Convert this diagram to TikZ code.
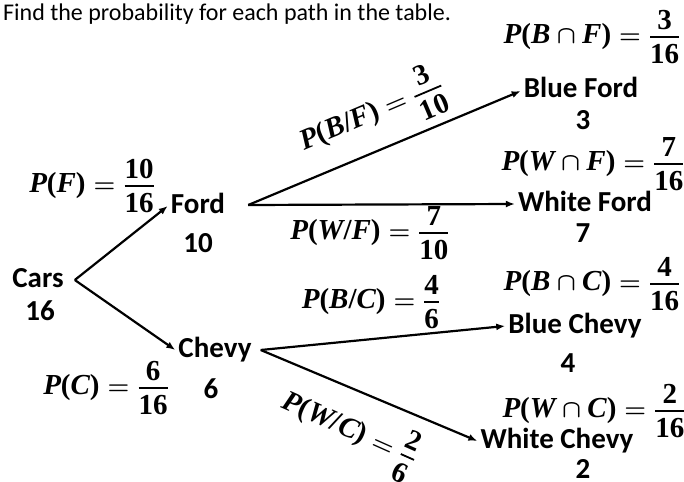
\documentclass[tikz,border=0pt]{standalone}
\usepackage{amsmath}
\usepackage{fontspec}
\setmainfont{Carlito}
\newfontfamily\probfont{Liberation Serif}
\usetikzlibrary{arrows.meta}

% letters and digits of the probabilities
\newcommand{\probsize}{\fontsize{29}{33}\selectfont}
\newcommand{\pv}[1]{\text{\probsize\probfont\bfseries\itshape #1}}
\newcommand{\pn}[1]{\text{\probsize\probfont\bfseries #1}}
\newcommand{\pfrac}[2]{\genfrac{}{}{1.8pt}{1}{\pn{#1}\rule[-5pt]{0pt}{5pt}}{\pn{#2}\rule{0pt}{24pt}}}
\newcommand{\pjoint}[2]{\pv{P}\pn{(}\pv{#1}\cap\pv{#2}\pn{)}}
\newcommand{\pcond}[2]{\pv{P}\pn{(}\pv{#1}\pn{/}\pv{#2}\pn{)}}

\begin{document}
\begin{tikzpicture}[x=1pt,y=1pt,
  lbl/.style={font=\fontsize{29}{32}\selectfont\bfseries, inner sep=3pt,
              text height=20pt, text depth=6pt, anchor=base},
  prob/.style={font=\probsize\boldmath, inner sep=0pt},
  arr/.style={-{Latex[length=9pt,width=7pt]}, line width=2.2pt, black},
]
\useasboundingbox (0,0) rectangle (684,-481);

% --- question ---
\node[anchor=base west, inner sep=0pt, font=\fontsize{24}{28}\selectfont] (title) at (3,-21)
  {Find the probability for each path in the table.};

% --- tree nodes ---
\node[lbl] (cars)  at (38,-287)  {Cars};
\node[lbl] (carsn) at (40,-320)  {16};
\node[lbl] (ford)  at (198,-213) {Ford};
\node[lbl] (fordn) at (198,-252) {10};
\node[lbl] (chevy) at (215,-357) {Chevy};
\node[lbl] (chevyn) at (211,-398) {6};

% --- leaves ---
\node[lbl] (bford)  at (581,-98)  {Blue Ford};
\node[lbl] (bfordn) at (583,-130) {3};
\node[lbl] (wford)  at (585,-211) {White Ford};
\node[lbl] (wfordn) at (583,-242) {7};
\node[lbl] (bchevy)  at (575,-333) {Blue Chevy};
\node[lbl] (bchevyn) at (568,-372) {4};
\node[lbl] (wchevy)  at (557,-448) {White Chevy};
\node[lbl, text depth=0pt, inner sep=1pt] (wchevyn) at (583,-478) {2};

% --- joint probabilities ---
\node[prob] (pbf) at (592,-37)  {$\pjoint{B}{F}=\pfrac{3}{16}$};
\node[prob] (pwf) at (593,-164) {$\pjoint{W}{F}=\pfrac{7}{16}$};
\node[prob] (pbc) at (592,-284) {$\pjoint{B}{C}=\pfrac{4}{16}$};
\node[prob] (pwc) at (594,-411) {$\pjoint{W}{C}=\pfrac{2}{16}$};

% --- branch probabilities ---
\node[prob] (pf) at (92,-186)  {$\pv{P}\pn{(}\pv{F}\pn{)}=\pfrac{10}{16}$};
\node[prob] (pc) at (106,-388) {$\pv{P}\pn{(}\pv{C}\pn{)}=\pfrac{6}{16}$};
\node[prob, rotate=23] (pbgf) at (372,-115) {$\pcond{B}{F}=\pfrac{3}{10}$};
\node[prob] (pwgf) at (370,-233) {$\pcond{W}{F}=\pfrac{7}{10}$};
\node[prob] (pbgc) at (371,-302) {$\pcond{B}{C}=\pfrac{4}{6}$};
\node[prob, rotate=-24] (pwgc) at (349,-431) {$\pcond{W}{C}=\pfrac{2}{6}$};

% --- arrows ---
\draw[arr] ([xshift=8pt]cars.east) -- (ford.west);
\draw[arr] ([xshift=8pt]cars.east) -- (chevy.west);
\draw[arr] ([xshift=20pt,yshift=1pt]ford.east) -- (bford.west);
\draw[arr] ([xshift=20pt,yshift=1pt]ford.east) -- (wford.west);
\draw[arr] ([xshift=6pt]chevy.east) -- (bchevy.west);
\draw[arr] ([xshift=6pt]chevy.east) -- (wchevy.west);

\end{tikzpicture}
\end{document}
